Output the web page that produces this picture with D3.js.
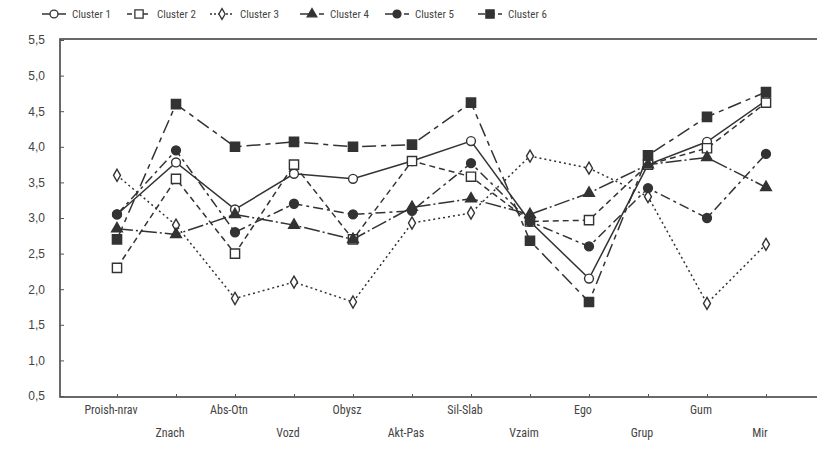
<!DOCTYPE html>
<html><head><meta charset="utf-8">
<script src="https://cdn.jsdelivr.net/npm/d3@7"></script>
<style>
html,body{margin:0;padding:0;background:#fff;}
svg{display:block;}
text{font-family:"Liberation Sans Narrow","Roboto Condensed","Arial Narrow","Liberation Sans",sans-serif;fill:#444;}
</style></head>
<body>
<svg id="chart" width="817" height="449"></svg>
<script>
const categories = ["Proish-nrav","Znach","Abs-Otn","Vozd","Obysz","Akt-Pas","Sil-Slab","Vzaim","Ego","Grup","Gum","Mir"];
const seriesNames = ["Cluster 1","Cluster 2","Cluster 3","Cluster 4","Cluster 5","Cluster 6"];
const cluster1 = [3.05,3.78,3.12,3.62,3.55,3.80,4.08,2.95,2.15,3.75,4.07,4.65];
const cluster2 = [2.30,3.55,2.50,3.75,2.70,3.80,3.58,2.95,2.97,3.75,3.98,4.62];
const cluster3 = [3.60,2.90,1.87,2.10,1.82,2.93,3.07,3.87,3.70,3.30,1.80,2.63];
const cluster4 = [2.85,2.77,3.05,2.90,2.70,3.15,3.27,3.05,3.35,3.75,3.85,3.43];
const cluster5 = [3.05,3.95,2.80,3.20,3.05,3.10,3.77,2.95,2.60,3.42,3.00,3.90];
const cluster6 = [2.70,4.60,4.00,4.07,4.00,4.03,4.62,2.68,1.82,3.88,4.42,4.77];
const yTicks = [0.5,1.0,1.5,2.0,2.5,3.0,3.5,4.0,4.5,5.0,5.5];

const values = [cluster1,cluster2,cluster3,cluster4,cluster5,cluster6];
const styles = [
  {dash:null, sym:"circle", fill:"#fff"},
  {dash:"6,4", sym:"square", fill:"#fff"},
  {dash:"2,3", sym:"diamond", fill:"#fff"},
  {dash:"16,3,2,3", sym:"triangle", fill:"#333"},
  {dash:"10,4,3,4", sym:"circle", fill:"#333"},
  {dash:"14,5,5,5", sym:"square", fill:"#333"}
];
const col = "#333";

const svg = d3.select("#chart");
const mLeft = 60, mRight = 830, mTop = 39, mBottom = 397;
const x = d3.scalePoint().domain(categories).range([117,766]);
const y = d3.scaleLinear().domain([0.5,5.5]).range([396,40]);

// frame
svg.append("rect").attr("x",mLeft).attr("y",mTop).attr("width",mRight-mLeft).attr("height",mBottom-mTop)
  .attr("fill","none").attr("stroke","#444").attr("stroke-width",1.6);

// y axis
const yAxis = d3.axisLeft(y).tickValues(yTicks).tickSize(-4).tickPadding(15)
  .tickFormat(d=>d3.format(".1f")(d).replace(".",","));
const ya = svg.append("g").attr("transform",`translate(${mLeft},0)`).call(yAxis);
ya.select(".domain").remove();
ya.selectAll(".tick line").attr("stroke","#555");
ya.selectAll(".tick text").attr("font-size",12).attr("fill","#555")
  .style("font-family","'Liberation Sans Narrow','Liberation Sans',sans-serif");

// x axis
const xAxis = d3.axisBottom(x).tickSize(-3).tickFormat("");
const xa = svg.append("g").attr("transform",`translate(0,${mBottom})`).call(xAxis);
xa.select(".domain").remove();
xa.selectAll(".tick line").attr("stroke","#555");
svg.append("g").selectAll("text").data(categories).join("text")
  .attr("x",d=>x(d)-6)
  .attr("y",(d,i)=> i%2===0 ? 414 : 437)
  .attr("text-anchor","middle")
  .attr("font-size",12)
  .text(d=>d);

function symbolPath(sym, k){
  const t = {circle:d3.symbolCircle, square:d3.symbolSquare, diamond:d3.symbolDiamond, triangle:d3.symbolTriangle}[sym];
  const size = {circle:62, square:85, diamond:42, triangle:50}[sym];
  return d3.symbol().type(t).size(size*(k||1))();
}

const line = d3.line().x((d,i)=>x(categories[i])).y(d=>y(d));

values.forEach((vals,s)=>{
  const st = styles[s];
  const g = svg.append("g");
  g.append("path").datum(vals).attr("d",line).attr("fill","none")
    .attr("stroke",col).attr("stroke-width",1.5)
    .attr("stroke-dasharray",st.dash);
  g.selectAll("path.m").data(vals).join("path").attr("class","m")
    .attr("transform",(d,i)=>`translate(${x(categories[i])},${y(d)})`)
    .attr("d",symbolPath(st.sym))
    .attr("fill",st.fill).attr("stroke",col).attr("stroke-width",1.4);
});

// legend
const legX = [42,127,210,300,385,478];
const lg = svg.append("g");
seriesNames.forEach((name,s)=>{
  const st = styles[s];
  const gx = legX[s], gy = 14;
  lg.append("line").attr("x1",gx).attr("x2",gx+24).attr("y1",gy).attr("y2",gy)
    .attr("stroke",col).attr("stroke-width",1.5)
    .attr("stroke-dasharray", s===0?null : s===1?"5,3" : s===2?"2,2" : s===5?"7,3":"9,4,2,4");
  lg.append("path").attr("transform",`translate(${gx+12},${gy})`)
    .attr("d",symbolPath(st.sym,0.8)).attr("fill",st.fill).attr("stroke",col).attr("stroke-width",1.3);
  lg.append("text").attr("x",gx+30).attr("y",gy+4).attr("font-size",11).text(name);
});
</script>
</body></html>
